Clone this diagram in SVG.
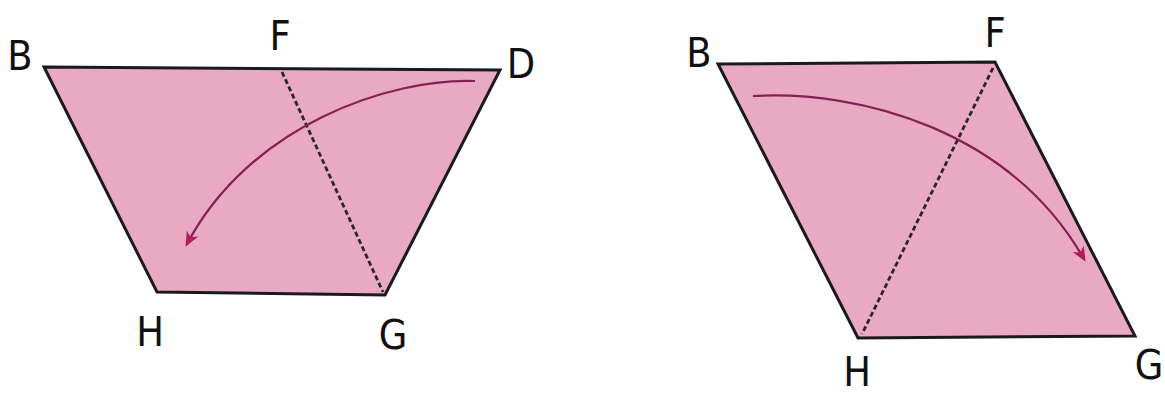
<svg xmlns="http://www.w3.org/2000/svg" width="1165" height="394" viewBox="0 0 1165 394">
<defs>
<style>
.sheet{fill:#e9a9c3;stroke:#1a1a1a;stroke-width:3;stroke-linejoin:miter}
.fold{fill:none;stroke:#262626;stroke-width:2.8;stroke-dasharray:5,3}
.arrow{fill:none;stroke:#852050;stroke-width:2.2;marker-end:url(#ah)}
.lbl{font-family:"DejaVu Sans Condensed","DejaVu Sans",sans-serif;font-size:41px;fill:#111;text-anchor:middle}
</style>
<marker id="ah" viewBox="0 0 14 12" refX="11" refY="6" markerWidth="15" markerHeight="13" markerUnits="userSpaceOnUse" orient="auto">
<path d="M0,0 L14,6 L0,12 L4,6 Z" fill="#b01c5c"/>
</marker>
</defs>
<g id="left-sheet">
<polygon class="sheet" points="44,67 500,70 385,295 157,292"/>
</g>
<g id="right-sheet">
<polygon class="sheet" points="718,64 995,62 1135,336 858,338"/>
</g>
<g id="connectors">
<line class="fold" x1="282" y1="72" x2="383" y2="292"/>
<path class="arrow" d="M475,81 C390,78 250,125 187,244"/>
<line class="fold" x1="993" y1="68" x2="862" y2="334"/>
<path class="arrow" d="M753,96 C860,90 1010,130 1084,259"/>
</g>
<g id="labels">
<text class="lbl" x="20" y="70">B</text>
<text class="lbl" x="280" y="50">F</text>
<text class="lbl" x="521" y="78">D</text>
<text class="lbl" x="150" y="346">H</text>
<text class="lbl" x="393" y="349">G</text>
<text class="lbl" x="699" y="67">B</text>
<text class="lbl" x="995" y="47">F</text>
<text class="lbl" x="857" y="386">H</text>
<text class="lbl" x="1149" y="379">G</text>
</g>
</svg>
